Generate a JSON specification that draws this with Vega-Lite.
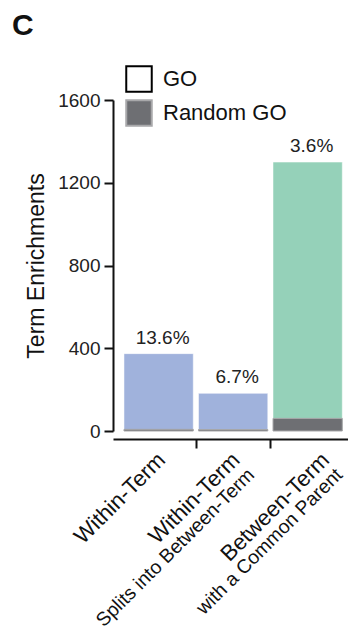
{
  "$schema": "https://vega.github.io/schema/vega-lite/v6.json",
  "width": 235,
  "height": 331,
  "autosize": {"type": "none"},
  "padding": {"left": 113, "top": 100, "right": 0, "bottom": 199},
  "background": "white",
  "title": {"text": "C", "anchor": "start", "frame": "group", "fontSize": 30, "fontWeight": "bold", "font": "Liberation Sans", "color": "#111", "dx": -101, "offset": 24},
  "data": {"values": [
    {"cat": "Within-Term", "go": 374, "random": 8, "type": "within", "pct": "13.6%", "series": "Random GO"},
    {"cat": "Within-Term|Splits into Between-Term", "go": 182, "random": 7, "type": "within", "pct": "6.7%", "series": "Random GO"},
    {"cat": "Between-Term|with a Common Parent", "go": 1300, "random": 61, "type": "between", "pct": "3.6%", "series": "Random GO"}
  ]},
  "layer": [
    {
      "mark": {"type": "bar", "stroke": "white", "strokeWidth": 1, "strokeOpacity": 0.5, "width": {"band": 0.93}},
      "encoding": {
        "x": {"field": "cat", "type": "nominal", "sort": null,
          "scale": {"type": "band", "paddingInner": 0, "paddingOuter": 0.077, "align": 0.73},
          "axis": {"orient": "bottom", "offset": 8, "title": null, "domain": true, "domainColor": "#111", "domainWidth": 2,
            "ticks": true, "tickBand": "extent", "tickSize": 9, "tickWidth": 2, "tickColor": "#111",
            "tickOpacity": {"condition": {"test": "datum.extra || datum.value == 'Between-Term|with a Common Parent'", "value": 0}, "value": 1},
            "labelOpacity": {"condition": {"test": "datum.extra", "value": 0}, "value": 1},
            "labelExpr": "isValid(datum.value) && !datum.extra ? split(datum.value, '|')[0] : ''",
            "labelAngle": -45, "labelAlign": "right", "labelBaseline": "top", "labelFontSize": 22.2, "labelPadding": 0.2,
            "labelOffset": {"condition": {"test": "indexof('' + datum.value, 'Between') == 0", "value": 9.7}, "value": -5.2},
            "labelColor": "#111", "labelFont": "Liberation Sans", "labelOverlap": false, "labelBound": false, "labelFlush": false, "labelLimit": 0, "grid": false}},
        "y": {"field": "go", "type": "quantitative", "title": "Term Enrichments", "scale": {"domain": [0, 1600]},
          "axis": {"values": [0, 400, 800, 1200, 1600], "format": "d"}},
        "color": {"field": "type", "type": "nominal", "scale": {"domain": ["within", "between"], "range": ["#a0b2dc", "#95d1b9"]}, "legend": null}
      }
    },
    {
      "mark": {"type": "bar", "strokeWidth": 1, "width": {"band": 0.93}},
      "encoding": {
        "x": {"field": "cat", "type": "nominal", "sort": null,
          "axis": {"orient": "bottom", "offset": 8, "title": null, "domain": false, "ticks": false, "tickSize": 0, "grid": false,
            "labelExpr": "isValid(datum.value) && indexof('' + datum.value, '|') >= 0 ? split(datum.value, '|')[1] : ''",
            "labelAngle": -45, "labelAlign": "right", "labelBaseline": "top", "labelFontSize": 19.4, "labelPadding": 26,
            "labelOffset": {"condition": {"test": "indexof('' + datum.value, 'Between') == 0", "value": 25.25}, "value": 11.75},
            "labelColor": "#111", "labelFont": "Liberation Sans", "labelOverlap": false, "labelBound": false, "labelFlush": false, "labelLimit": 0}},
        "y": {"field": "random", "type": "quantitative", "title": "Term Enrichments",
          "axis": {"values": [0, 400, 800, 1200, 1600], "format": "d"}},
        "fill": {"field": "series", "type": "nominal", "scale": {"domain": ["GO", "Random GO"], "range": ["white", "#6e6f73"]},
          "legend": {"title": null, "orient": "none", "legendX": 12, "legendY": -35, "symbolType": "square", "symbolSize": 650, "symbolStrokeWidth": 2, "labelFontSize": 22, "labelFont": "Liberation Sans", "labelColor": "#111", "rowPadding": 0, "labelOffset": 10, "padding": 0}},
        "stroke": {"field": "series", "type": "nominal", "scale": {"domain": ["GO", "Random GO"], "range": ["black", "#a8a8aa"]},
          "legend": {"title": null, "orient": "none", "legendX": 12, "legendY": -35, "symbolType": "square", "symbolSize": 650, "symbolStrokeWidth": 2, "labelFontSize": 22, "labelFont": "Liberation Sans", "labelColor": "#111", "rowPadding": 0, "labelOffset": 10, "padding": 0}}
      }
    },
    {
      "mark": {"type": "text", "color": "#222", "fontSize": 19, "dx": 4, "dy": -10, "baseline": "alphabetic", "align": "center", "font": "Liberation Sans"},
      "encoding": {
        "x": {"field": "cat", "type": "nominal", "sort": null, "axis": null},
        "y": {"field": "go", "type": "quantitative", "title": "Term Enrichments",
          "axis": {"values": [0, 400, 800, 1200, 1600], "format": "d"}},
        "text": {"field": "pct"}
      }
    }
  ],
  "resolve": {"axis": {"x": "independent"}},
  "config": {
    "font": "Liberation Sans",
    "view": {"stroke": null},
    "axisY": {"grid": false, "domainColor": "#111", "domainWidth": 2, "tickColor": "#111", "tickWidth": 2, "tickSize": 9,
      "labelFontSize": 19, "labelColor": "#222", "labelPadding": 4, "labelFont": "Liberation Sans",
      "titleFontSize": 23, "titleFontWeight": "normal", "titleColor": "#111", "titleFont": "Liberation Sans",
      "titleAngle": 270, "titleBaseline": "alphabetic", "titleAlign": "center", "titleX": -70, "titleY": 165.5}
  }
}
